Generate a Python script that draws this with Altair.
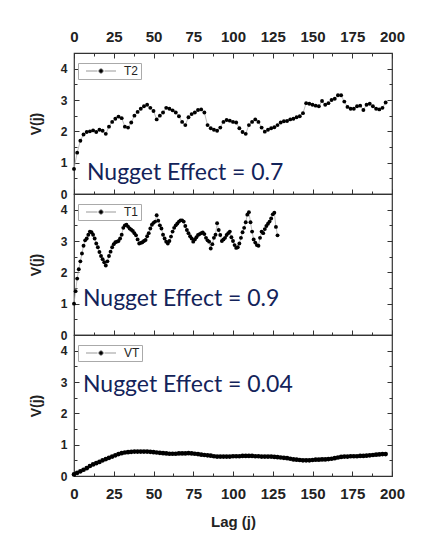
import altair as alt
import pandas as pd

# ---- data ----
t2_lag = list(range(0, 197, 2))
t2_val = [0.8, 1.32, 1.7, 1.9, 1.98, 2.0, 2.03, 1.98, 2.05, 2.02,
          1.92, 2.15, 2.3, 2.4, 2.47, 2.42, 2.15, 2.12, 2.28, 2.5,
          2.62, 2.72, 2.8, 2.85, 2.75, 2.65, 2.38, 2.5, 2.6, 2.75,
          2.72, 2.67, 2.6, 2.48, 2.3, 2.2, 2.45, 2.55, 2.6, 2.68,
          2.7, 2.6, 2.2, 2.1, 2.05, 2.02, 2.12, 2.3, 2.36, 2.34,
          2.3, 2.28, 2.1, 1.98, 1.92, 2.2, 2.3, 2.38, 2.3, 2.12,
          1.99, 2.05, 2.1, 2.13, 2.2, 2.28, 2.32, 2.33, 2.38, 2.4,
          2.45, 2.48, 2.58, 2.9, 2.88, 2.85, 2.82, 2.8, 2.97, 2.85,
          2.9, 3.0, 3.04, 3.15, 3.15, 2.95, 2.78, 2.72, 2.72, 2.8,
          2.82, 2.68, 2.85, 2.88, 2.8, 2.72, 2.7, 2.75, 2.92]

t1_lag = list(range(0, 129))
t1_val = [1.0, 1.4, 1.8, 2.1, 2.35, 2.6, 2.85, 3.02, 3.08, 3.2,
          3.3, 3.28, 3.2, 3.08, 2.92, 2.8, 2.65, 2.52, 2.42, 2.32,
          2.22, 2.35, 2.52, 2.66, 2.8, 2.9, 2.96, 2.98, 3.0, 3.08,
          3.2, 3.42, 3.5, 3.52, 3.46, 3.4, 3.36, 3.32, 3.25, 3.18,
          3.05, 2.92, 2.94, 2.96, 3.0, 3.03, 3.15, 3.25, 3.4, 3.52,
          3.58, 3.62, 3.82, 3.65, 3.5, 3.4, 3.2, 3.08, 2.98, 2.92,
          3.0, 3.14, 3.3, 3.42, 3.5, 3.56, 3.62, 3.66, 3.66, 3.62,
          3.48, 3.35, 3.25, 3.15, 3.08, 2.98, 3.05, 3.12, 3.19, 3.22,
          3.25, 3.27, 3.22, 3.1, 3.02, 2.98, 2.76, 2.9, 3.1, 3.2,
          3.57, 3.35, 3.19, 3.0, 3.05, 3.1, 3.19, 3.25, 3.3, 3.12,
          3.0, 2.87, 2.78, 2.8, 2.92, 3.1, 3.28, 3.42, 3.6, 3.84,
          3.92, 3.6, 3.3, 3.05, 2.95, 2.87, 2.85, 3.1, 3.3, 3.25,
          3.38, 3.48, 3.55, 3.62, 3.72, 3.85, 3.9, 3.45, 3.18]

vt_lag = list(range(0, 197, 2))
vt_val = [0.05, 0.1, 0.15, 0.2, 0.25, 0.32, 0.37, 0.41, 0.45, 0.5,
          0.54, 0.58, 0.62, 0.66, 0.7, 0.73, 0.75, 0.76, 0.77, 0.78,
          0.78, 0.78, 0.78, 0.78, 0.77, 0.76, 0.75, 0.74, 0.73, 0.72,
          0.71, 0.71, 0.71, 0.72, 0.72, 0.72, 0.73, 0.72, 0.71, 0.7,
          0.68, 0.67, 0.66, 0.65, 0.63, 0.62, 0.62, 0.62, 0.62, 0.62,
          0.63, 0.63, 0.63, 0.64, 0.64, 0.64, 0.64, 0.63, 0.63, 0.62,
          0.62, 0.62, 0.62, 0.61, 0.6, 0.59, 0.58, 0.57, 0.55, 0.53,
          0.52, 0.51, 0.5, 0.5, 0.5, 0.51, 0.52, 0.52, 0.53, 0.53,
          0.54, 0.55, 0.57, 0.59, 0.61, 0.62, 0.62, 0.63, 0.63, 0.63,
          0.64, 0.64, 0.65, 0.66, 0.67, 0.68, 0.69, 0.7, 0.7]

x_major = [0, 25, 50, 75, 100, 125, 150, 175, 200]
x_minor = [12.5, 37.5, 62.5, 87.5, 112.5, 137.5, 162.5, 187.5]
y_major = [0, 1, 2, 3, 4]
y_minor = [0.5, 1.5, 2.5, 3.5]

notes = ["Nugget Effect = 0.7", "Nugget Effect = 0.9", "Nugget Effect = 0.04"]

W, H = 318, 141
AX_FONT = "Liberation Sans"
INK = "#222222"
# dash - dot - dash symbol, drawn to the right of the symbol centre
LEGEND_SYMBOL = ("M0,0L2.3,0M3.7,0L6,0"
                 "M3.45,0A0.45,0.45,0,1,1,2.55,0A0.45,0.45,0,1,1,3.45,0Z")

xs = alt.Scale(domain=[0, 200], nice=False, zero=False)
ys = alt.Scale(domain=[0, 4.5], nice=False)


def ax(orient, values, size, labels=False, title=None, lsize=12, lpad=7, tpad=10):
    kw = dict(orient=orient, values=values, tickSize=size, offset=-size,
              domain=False, grid=False, ticks=True, tickColor="#333333",
              tickWidth=1, labels=labels, title=title)
    if labels:
        kw.update(labelFont=AX_FONT, labelFontSize=lsize, labelFontWeight="bold",
                  labelColor=INK, labelPadding=lpad, labelFlush=False,
                  labelOverlap=False)
    if title:
        kw.update(titleFont=AX_FONT, titleFontSize=15 if orient != "left" else 14,
                  titleFontWeight="bold", titleColor=INK, titlePadding=tpad)
    return alt.Axis(**kw)


def panel(lags, vals, name, note, note_x, note_y, top=False, bottom=False, dot=14):
    df = pd.DataFrame({"lag": lags, "v": vals, "series": name})

    line = alt.Chart(df).mark_line(color="#aaaaaa", strokeWidth=0.8).encode(
        x=alt.X("lag:Q", scale=xs,
                axis=ax("bottom", x_major, 5, labels=bottom,
                        title="Lag (j)" if bottom else None, lsize=15, lpad=10, tpad=13)),
        y=alt.Y("v:Q", scale=ys,
                axis=ax("left", y_major, 5, labels=True, title="V(j)", lsize=12,
                        lpad=7, tpad=17)),
    )
    pts = alt.Chart(df).mark_point(filled=True, size=dot, opacity=1).encode(
        x=alt.X("lag:Q", scale=xs, axis=ax("bottom", x_minor, 3)),
        y=alt.Y("v:Q", scale=ys, axis=ax("left", y_minor, 3)),
        color=alt.Color("series:N", scale=alt.Scale(range=["#000000"]),
                        legend=alt.Legend(title=None, orient="none", legendX=4, legendY=10,
                                          symbolType=LEGEND_SYMBOL, symbolSize=100,
                                          symbolStrokeColor="#999999", symbolStrokeWidth=1,
                                          labelFont=AX_FONT, labelFontSize=12,
                                          labelColor=INK, labelOffset=32,
                                          strokeColor="#aaaaaa", fillColor="white",
                                          padding=2)),
    )
    right1 = alt.Chart(df).mark_point(opacity=0).encode(
        x=alt.X("lag:Q", scale=xs,
                axis=ax("top", x_major, 5, labels=True, lsize=15, lpad=9) if top else None),
        y=alt.Y("v:Q", scale=ys, axis=ax("right", y_major, 5)),
    )
    right2 = alt.Chart(df).mark_point(opacity=0).encode(
        x=alt.X("lag:Q", scale=xs, axis=ax("top", x_minor, 3) if top else None),
        y=alt.Y("v:Q", scale=ys, axis=ax("right", y_minor, 3)),
    )
    txt = alt.Chart(pd.DataFrame({"t": [note]})).mark_text(
        align="left", baseline="alphabetic", font="Lato", fontSize=23,
        color="#13235a").encode(
        x=alt.value(note_x), y=alt.value(note_y), text="t:N")

    return alt.layer(line, pts, right1, right2, txt).resolve_axis(
        x="independent", y="independent").properties(width=W, height=H)


p1 = panel(t2_lag, t2_val, "T2", notes[0], 13, 127, top=True, dot=15)
p2 = panel(t1_lag, t1_val, "T1", notes[1], 9, 112, dot=15)
p3 = panel(vt_lag, vt_val, "VT", notes[2], 9, 57, bottom=True, dot=22)

chart = alt.vconcat(p1, p2, p3, spacing=0, bounds="flush").resolve_scale(
    color="independent").resolve_legend(color="independent").properties(
    padding={"left": 20, "top": 20, "right": 5, "bottom": 5},
    background="white",
).configure_view(stroke="#333333", strokeWidth=1.2)

chart.save("out.html", embed_options={"renderer": "svg", "actions": False})
